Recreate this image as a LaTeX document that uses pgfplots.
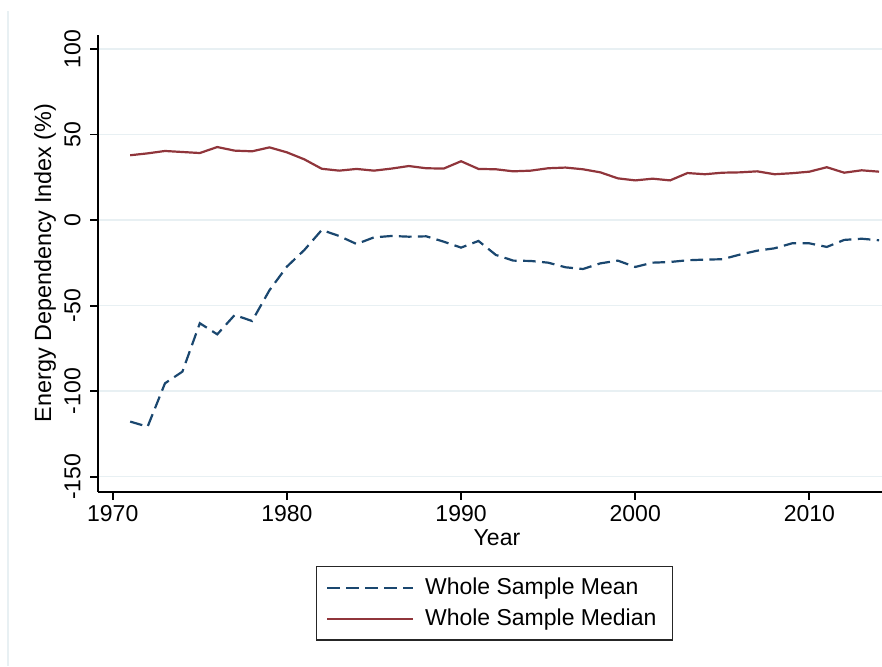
\documentclass[border=0pt]{standalone}
\usepackage{fontspec}
\setmainfont{Liberation Sans}
\usepackage{pgfplots}
\usepackage{pgfplotstable}
\pgfplotsset{compat=1.18}
\definecolor{statanavy}{RGB}{26,71,111}
\definecolor{statamaroon}{RGB}{144,53,59}
\definecolor{gridc}{RGB}{232,240,243}
\newcommand{\fs}{\fontsize{11.5}{13.5}\selectfont}

\pgfplotstableread{
year mean
1971 -117.8
1972 -120.8
1973 -95.4
1974 -88.6
1975 -60.3
1976 -66.8
1977 -55.5
1978 -59.0
1979 -41.0
1980 -27.2
1981 -17.5
1982 -5.8
1983 -9.3
1984 -14.0
1985 -10.1
1986 -9.3
1987 -9.7
1988 -9.5
1989 -12.6
1990 -16.1
1991 -12.2
1992 -20.4
1993 -23.7
1994 -23.9
1995 -24.9
1996 -27.6
1997 -28.6
1998 -25.3
1999 -23.7
2000 -27.4
2001 -24.9
2002 -24.5
2003 -23.5
2004 -23.1
2005 -22.9
2006 -20.2
2007 -17.9
2008 -16.5
2009 -13.6
2010 -13.6
2011 -15.7
2012 -11.6
2013 -10.9
2014 -11.8
}\meantable

\pgfplotstableread{
year median
1971 37.9
1972 39.0
1973 40.4
1974 39.8
1975 39.2
1976 42.7
1977 40.6
1978 40.2
1979 42.5
1980 39.6
1981 35.5
1982 30.0
1983 28.9
1984 29.9
1985 28.9
1986 30.1
1987 31.6
1988 30.3
1989 30.1
1990 34.4
1991 29.9
1992 29.7
1993 28.5
1994 28.9
1995 30.3
1996 30.7
1997 29.7
1998 27.9
1999 24.4
2000 23.2
2001 24.2
2002 23.2
2003 27.5
2004 26.8
2005 27.7
2006 27.9
2007 28.5
2008 26.8
2009 27.4
2010 28.3
2011 30.9
2012 27.7
2013 29.1
2014 28.3
}\mediantable

\begin{document}
\begin{tikzpicture}
\useasboundingbox (0,0) rectangle (441pt,333pt);
\draw[gridc, line width=0.6pt] (4pt,0) -- (4pt,327.5pt);
\begin{axis}[
  at={(49.15pt,87.15pt)}, anchor=south west,
  scale only axis, width=391.85pt, height=228.35pt,
  xmin=1969.17, xmax=2014.17, ymin=-158.8, ymax=108.2,
  axis lines=left, axis line style={-, line width=0.9pt, black},
  xtick={1970,1980,1990,2000,2010}, xticklabels={1970,1980,1990,2000,2010},
  ytick={-150,-100,-50,0,50,100}, yticklabels={-150,-100,-50,0,50,100},
  tick align=outside, major tick length=4pt,
  tick style={black, line width=0.9pt},
  ymajorgrids, grid style={gridc, line width=0.8pt},
  xticklabel style={font=\fs, inner sep=0pt, anchor=north, yshift=-2.65pt},
  yticklabel style={font=\fs, inner sep=0pt, xshift=-4.6pt, rotate=90, anchor=south},
  xlabel={Year}, ylabel={Energy Dependency Index (\%)},
  every axis x label/.style={at={(axis description cs:0.5087,-0.1014)}, anchor=center, font=\fs},
  every axis y label/.style={at={(axis description cs:-0.068,0.5008)}, rotate=90, anchor=center, font=\fontsize{11.7}{13.7}\selectfont},
  legend style={at={(axis description cs:0.2905,-0.188)}, anchor=north west,
    draw=none, fill=none, inner sep=0pt, font=\fs, row sep=5.8pt,
    column sep=5.4pt, nodes={inner sep=0pt}},
  legend cell align=left,
  legend image code/.code={\draw[#1] (0pt,0pt) -- (42.85pt,0pt);},
]
\addplot[statanavy, line width=1.1pt, dash pattern=on 6.3pt off 3.2pt] table[x=year,y=mean] {\meantable};
\addlegendentry{Whole Sample Mean}
\addplot[statamaroon, line width=1.1pt] table[x=year,y=median] {\mediantable};
\addlegendentry{Whole Sample Median}
\end{axis}
\draw[line width=0.6pt, black!85] (158.35pt,13pt) rectangle (336.35pt,49.65pt);
\end{tikzpicture}
\end{document}
